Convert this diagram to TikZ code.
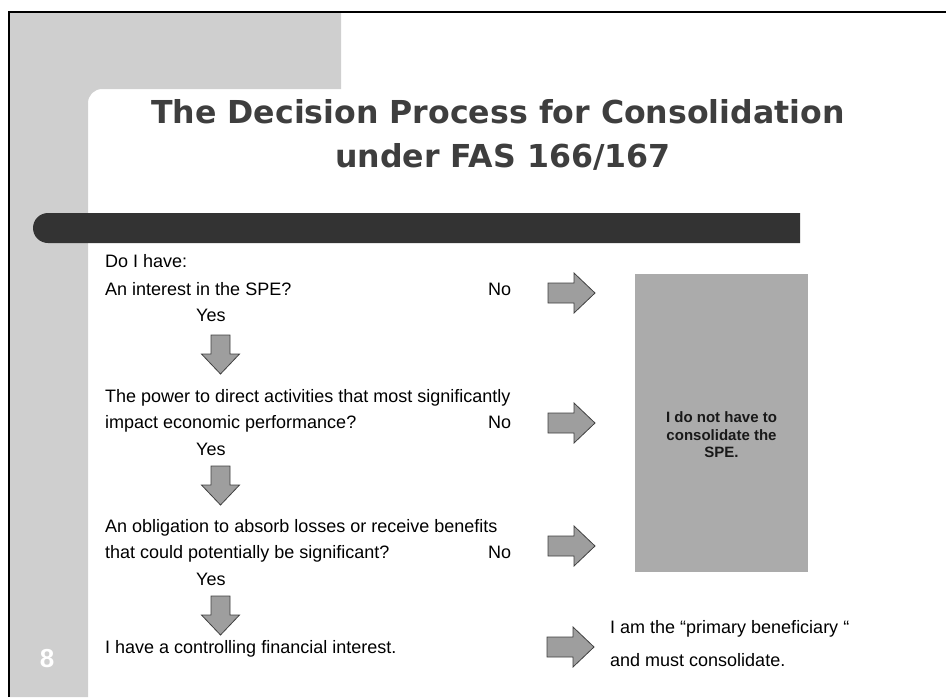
\documentclass[tikz,border=0pt]{standalone}
\usepackage{fontspec}
\setmainfont{Liberation Sans}
\newfontfamily\titlefont{DejaVu Sans}
\usepackage{tikz}
\usepackage{xcolor}
\definecolor{sidegray}{RGB}{207, 207, 207}
\definecolor{bardark}{RGB}{51, 51, 51}
\definecolor{titlegray}{RGB}{62, 62, 62}
\definecolor{boxgray}{RGB}{171, 171, 171}
\definecolor{arrowgray}{RGB}{158, 158, 158}

\begin{document}
\begin{tikzpicture}[x=1pt, y=-1pt,
    txt/.style={anchor=base west, inner sep=0pt, align=left, font=\fontsize{18}{25.5}\selectfont},
    title/.style={anchor=base, inner sep=0pt, text=titlegray, font=\titlefont\bfseries\fontsize{31.6}{31.6}\selectfont},
    blockarrow/.style={draw=black!75, fill=arrowgray, line width=0.8pt, line join=miter},
    rarrow/.pic={\draw[blockarrow] (0,-10) -- (26,-10) -- (26,-20) -- (47,0) -- (26,20) -- (26,10) -- (0,10) -- cycle;},
    darrow/.pic={\draw[blockarrow] (-9.5,0) -- (9.5,0) -- (9.5,19) -- (19,19) -- (0,39) -- (-19,19) -- (-9.5,19) -- cycle;}]
    \useasboundingbox (0,0) rectangle (946,697);

    % Slide background
    \fill[sidegray] (10,13) -- (341,13) -- (341,89) -- (102,89)
        arc[start angle=270, end angle=180, radius=14] -- (88,697) -- (10,697) -- cycle;
    \draw[line width=1.6pt] (9,697) -- (9,12) -- (946,12);
    \begin{scope}
        \clip (0,0) rectangle (800,697);
        \fill[bardark, rounded corners=15pt] (33,213) rectangle (840,243);
    \end{scope}

    % Title
    \node[title] (title1) at (498,123) {The Decision Process for Consolidation};
    \node[title] (title2) at (503,167) {under FAS 166/167};

    % Questions
    \node[txt] (ask) at (105,267) {Do I have:};
    \node[txt] (q1) at (105,295) {An interest in the SPE?};
    \node[txt] (no1) at (488,295) {No};
    \node[txt] (yes1) at (196,321) {Yes};
    \pic at (220.5,335) {darrow};

    \node[txt] (q2) at (105,428) {The power to direct activities that most significantly\\impact economic performance?};
    \node[txt] (no2) at (488,428) {No};
    \node[txt] (yes2) at (196,455) {Yes};
    \pic at (220.5,466) {darrow};

    \node[txt] (q3) at (105,558) {An obligation to absorb losses or receive benefits\\that could potentially be significant?};
    \node[txt] (no3) at (488,558) {No};
    \node[txt] (yes3) at (196,585) {Yes};
    \pic at (220.5,596) {darrow};

    \node[txt] (ctrl) at (105,653) {I have a controlling financial interest.};

    % Outcomes
    \pic at (548,293) {rarrow};
    \pic at (548,423) {rarrow};
    \pic at (548,546) {rarrow};
    \pic at (547,647) {rarrow};
    \node[fill=boxgray, minimum width=173, minimum height=298, inner sep=0pt] (nobox) at (721.5,423) {};
    \node[align=center, text=black!90, font=\bfseries\fontsize{15}{17.5}\selectfont] (notext) at ([yshift=-12pt]nobox.center) {I do not have to\\consolidate the\\SPE.};
    \node[txt, font=\fontsize{18}{33}\selectfont] (prim) at (610,666) {I am the “primary beneficiary “\\and must consolidate.};

    \node[anchor=base, text=white, font=\bfseries\fontsize{26}{26}\selectfont] (pagenum) at (47,667) {8};
\end{tikzpicture}
\end{document}
